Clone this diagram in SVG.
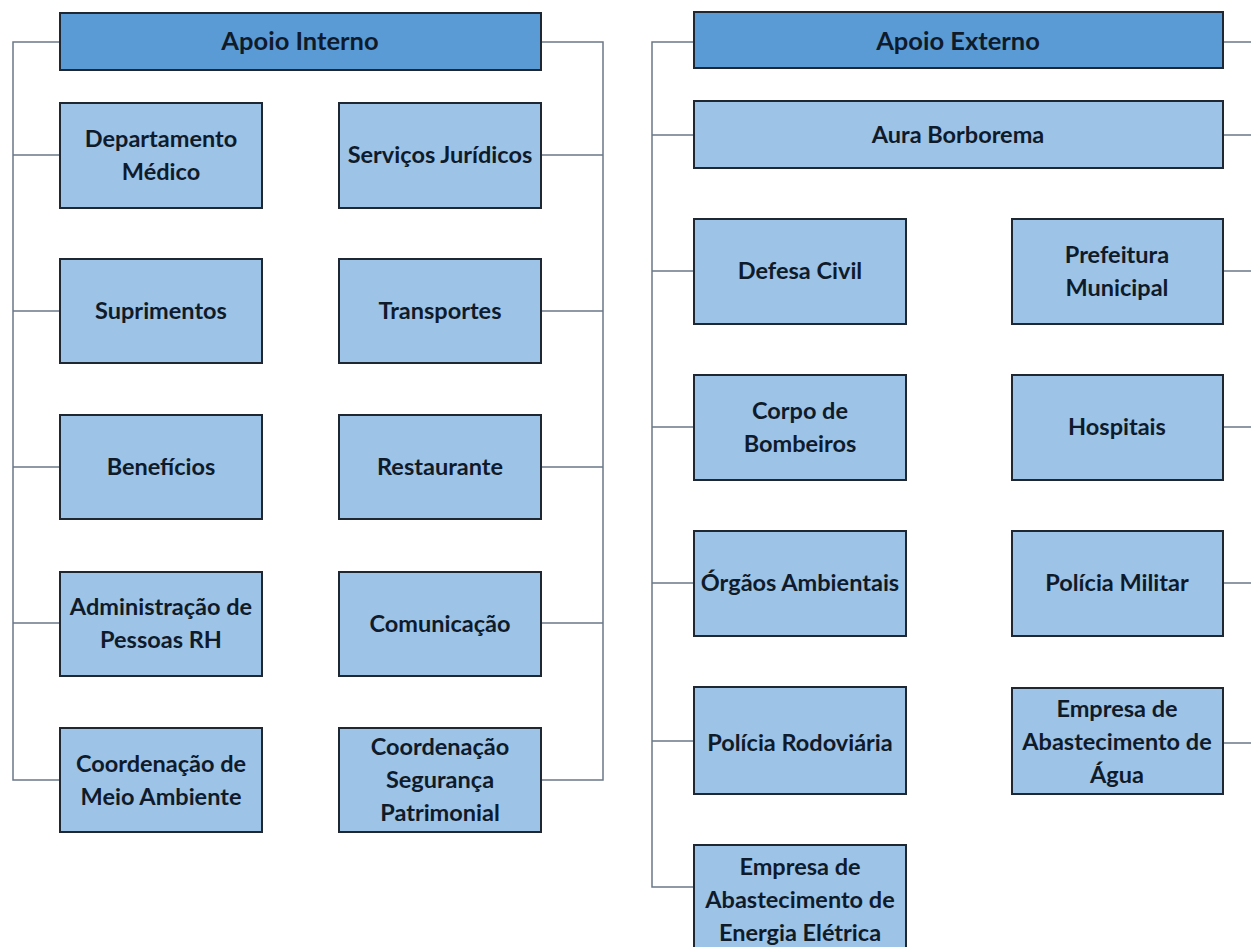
<svg xmlns="http://www.w3.org/2000/svg" width="1251" height="947" viewBox="0 0 1251 947">
<style>
.hdr{fill:#5b9bd5;stroke:#1f2733;stroke-width:2}
.box{fill:#9dc3e6;stroke:#1f2733;stroke-width:2}
.t{font-family:Lato,"Open Sans",sans-serif;font-weight:700;font-size:23.5px;fill:#0f1b2b;text-anchor:middle}
.h{font-size:25.5px}
.c{fill:none;stroke:#6b7888;stroke-width:1.5}
</style>
<rect width="1251" height="947" fill="#ffffff"/>
<g id="connectors">
<path class="c" d="M60,42H13V780H60M13,155H60M13,311H60M13,467H60M13,623H60"/>
<path class="c" d="M541,42H603V780H541M541,155H603M541,311H603M541,467H603M541,623H603"/>
<path class="c" d="M694,42H652V887H694M652,135H694M652,271H694M652,427H694M652,583H694M652,741H694"/>
<path class="c" d="M1223,42H1251M1223,135H1251M1223,271H1251M1223,427H1251M1223,583H1251M1223,743H1251"/>
</g>
<g id="apoio-interno"><rect class="hdr" x="60" y="13" width="481" height="57"/><text class="t h" x="300" y="50">Apoio Interno</text></g>
<g id="dep-medico"><rect class="box" x="60" y="103" width="202" height="105"/><text class="t" x="161" y="147">Departamento</text><text class="t" x="161" y="180">Médico</text></g>
<g id="servicos-juridicos"><rect class="box" x="339" y="103" width="202" height="105"/><text class="t" x="440" y="163">Serviços Jurídicos</text></g>
<g id="suprimentos"><rect class="box" x="60" y="259" width="202" height="104"/><text class="t" x="161" y="319">Suprimentos</text></g>
<g id="transportes"><rect class="box" x="339" y="259" width="202" height="104"/><text class="t" x="440" y="319">Transportes</text></g>
<g id="beneficios"><rect class="box" x="60" y="415" width="202" height="104"/><text class="t" x="161" y="475">Benefícios</text></g>
<g id="restaurante"><rect class="box" x="339" y="415" width="202" height="104"/><text class="t" x="440" y="475">Restaurante</text></g>
<g id="adm-pessoas"><rect class="box" x="60" y="572" width="202" height="104"/><text class="t" x="161" y="615">Administração de</text><text class="t" x="161" y="648">Pessoas RH</text></g>
<g id="comunicacao"><rect class="box" x="339" y="572" width="202" height="104"/><text class="t" x="440" y="632">Comunicação</text></g>
<g id="coord-meio-ambiente"><rect class="box" x="60" y="728" width="202" height="104"/><text class="t" x="161" y="772">Coordenação de</text><text class="t" x="161" y="805">Meio Ambiente</text></g>
<g id="coord-seguranca"><rect class="box" x="339" y="728" width="202" height="104"/><text class="t" x="440" y="755">Coordenação</text><text class="t" x="440" y="788">Segurança</text><text class="t" x="440" y="821">Patrimonial</text></g>
<g id="apoio-externo"><rect class="hdr" x="694" y="12" width="529" height="56"/><text class="t h" x="958" y="50">Apoio Externo</text></g>
<g id="aura-borborema"><rect class="box" x="694" y="101" width="529" height="67"/><text class="t" x="958" y="143">Aura Borborema</text></g>
<g id="defesa-civil"><rect class="box" x="694" y="219" width="212" height="105"/><text class="t" x="800" y="279">Defesa Civil</text></g>
<g id="prefeitura"><rect class="box" x="1012" y="219" width="211" height="105"/><text class="t" x="1117" y="263">Prefeitura</text><text class="t" x="1117" y="296">Municipal</text></g>
<g id="corpo-bombeiros"><rect class="box" x="694" y="375" width="212" height="105"/><text class="t" x="800" y="419">Corpo de</text><text class="t" x="800" y="452">Bombeiros</text></g>
<g id="hospitais"><rect class="box" x="1012" y="375" width="211" height="105"/><text class="t" x="1117" y="435">Hospitais</text></g>
<g id="orgaos-ambientais"><rect class="box" x="694" y="531" width="212" height="105"/><text class="t" x="800" y="591">Órgãos Ambientais</text></g>
<g id="policia-militar"><rect class="box" x="1012" y="531" width="211" height="105"/><text class="t" x="1117" y="591">Polícia Militar</text></g>
<g id="policia-rodoviaria"><rect class="box" x="694" y="687" width="212" height="107"/><text class="t" x="800" y="751">Polícia Rodoviária</text></g>
<g id="empresa-agua"><rect class="box" x="1012" y="688" width="211" height="106"/><text class="t" x="1117" y="717">Empresa de</text><text class="t" x="1117" y="750">Abastecimento de</text><text class="t" x="1117" y="783">Água</text></g>
<g id="empresa-energia"><rect class="box" x="694" y="845" width="212" height="112"/><text class="t" x="800" y="875">Empresa de</text><text class="t" x="800" y="908">Abastecimento de</text><text class="t" x="800" y="941">Energia Elétrica</text></g>
</svg>
